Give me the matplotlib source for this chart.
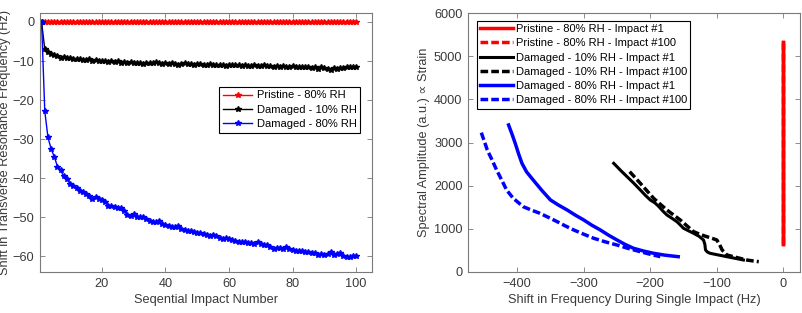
import matplotlib
matplotlib.use("Agg")
import matplotlib.pyplot as plt
import numpy as np

plt.rcParams['font.family'] = ['Liberation Sans', 'DejaVu Sans']

# ---------------- Left panel data ----------------
impact = list(range(1, 101))
pristine_80 = [0.0] * 100
damaged_10 = [0, -7.0, -7.8, -8.3, -8.5, -8.6, -9.3, -9.0, -9.2, -9.3,
              -9.5, -9.4, -9.6, -9.7, -9.8, -9.6, -9.9, -9.8, -10.0, -9.9,
              -10.1, -10.2, -10.0, -10.3, -10.1, -10.4, -10.2, -10.5, -10.3, -10.4,
              -10.6, -10.5, -10.7, -10.5, -10.6, -10.4, -10.2, -10.5, -10.7, -10.6,
              -10.8, -10.6, -10.7, -10.9, -10.8, -10.6, -10.8, -10.7, -10.9, -10.8,
              -10.7, -10.9, -11.0, -10.8, -10.9, -11.1, -10.9, -11.0, -11.2, -10.9,
              -11.0, -11.1, -11.0, -11.2, -11.1, -11.3, -11.2, -11.0, -11.2, -11.3,
              -11.1, -11.3, -11.2, -11.4, -11.3, -11.4, -11.2, -11.4, -11.5, -11.3,
              -11.5, -11.6, -11.4, -11.6, -11.5, -11.7, -11.5, -12.0, -11.6, -11.8,
              -12.1, -12.2, -11.9, -12.0, -11.7, -11.8, -11.5, -11.6, -11.4, -11.5]
damaged_80 = [0, -22.8, -29.5, -32.5, -34.5, -37.0, -38.0, -39.5, -40.3, -41.5,
              -42.0, -42.5, -43.2, -43.5, -44.0, -44.5, -45.3, -44.8, -45.2, -45.5,
              -46.0, -47.0, -47.2, -47.3, -47.5, -47.6, -48.3, -49.3, -49.6, -49.2,
              -49.8, -49.9, -50.0, -50.5, -51.0, -51.2, -51.3, -51.0, -51.6, -52.0,
              -52.3, -52.6, -52.4, -52.1, -53.0, -53.3, -53.5, -53.4, -53.7, -53.9,
              -54.0, -54.3, -54.5, -54.9, -54.6, -54.7, -55.2, -55.5, -55.4, -55.5,
              -55.8, -56.0, -56.3, -56.4, -56.2, -56.5, -56.6, -56.8, -56.2, -56.9,
              -57.1, -57.2, -57.6, -58.2, -57.8, -57.9, -58.0, -57.7, -58.2, -58.4,
              -58.6, -58.5, -58.7, -58.9, -58.8, -59.1, -59.2, -59.6, -59.5, -59.7,
              -59.4, -59.0, -59.6, -59.5, -59.1, -59.9, -60.2, -60.1, -60.0, -59.8]

# ---------------- Right panel data ----------------
pr1_shift = [0, 0]
pr1_amp = [650, 5320]
pr100_shift = [0, 0]
pr100_amp = [650, 5300]
d10_1_shift = [-255, -245, -235, -225, -215, -207, -200, -193, -187, -181, -175, -167, -160,
               -155, -150, -142, -135, -127, -120, -118, -117, -114, -110, -98, -85, -72, -60]
d10_1_amp = [2518, 2360, 2209, 2060, 1900, 1770, 1668, 1600, 1513, 1410, 1320, 1240, 1166,
             1090, 1012, 950, 897, 830, 741, 640, 510, 460, 433, 395, 355, 315, 278]
d10_100_shift = [-231, -223, -215, -205, -195, -185, -175, -165, -155, -145, -135, -125,
                 -115, -107, -100, -96, -92, -88, -85, -70, -55, -45, -37]
d10_100_amp = [2324, 2190, 2055, 1880, 1707, 1570, 1437, 1320, 1205, 1070, 935, 870,
               818, 780, 741, 640, 510, 450, 394, 335, 278, 255, 239]
d80_1_shift = [-413, -408, -403, -398, -393, -386, -376, -363, -350, -338, -325, -313, -300,
               -288, -275, -263, -250, -238, -225, -210, -195, -178, -158]
d80_1_amp = [3406, 3200, 2980, 2740, 2520, 2320, 2131, 1890, 1668, 1550, 1437, 1320, 1205,
             1085, 973, 855, 741, 640, 548, 485, 433, 390, 355]
d80_100_shift = [-454, -450, -445, -438, -431, -423, -416, -406, -391, -378, -366, -353, -340,
                 -328, -315, -300, -285, -268, -250, -233, -215, -200, -185]
d80_100_amp = [3228, 3050, 2827, 2600, 2363, 2120, 1900, 1707, 1513, 1430, 1360, 1265, 1166,
               1070, 973, 875, 781, 700, 625, 545, 471, 410, 355]

text_col = '#3a3a3a'
spine_col = '#7a7a7a'
fs = 9.2
lfs = 8.0

fig = plt.figure(figsize=(8.03, 3.13), dpi=100)
ax1 = fig.add_axes([40/803, 41/313, 332/803, 259/313])
ax2 = fig.add_axes([468/803, 41/313, 332/803, 259/313])

# Left panel
ax1.plot(impact, pristine_80, color='red', marker='*', ms=4.2, lw=1, label='Pristine - 80% RH')
ax1.plot(impact, damaged_10, color='black', marker='*', ms=4.2, lw=1, label='Damaged - 10% RH')
ax1.plot(impact, damaged_80, color='blue', marker='*', ms=4.2, lw=1, label='Damaged - 80% RH')
ax1.set_xlim(0.5, 105)
ax1.set_ylim(-64, 2.3)
ax1.set_xticks([20, 40, 60, 80, 100])
ax1.set_yticks([0, -10, -20, -30, -40, -50, -60])
ax1.set_xlabel('Seqential Impact Number', fontsize=fs, color=text_col, labelpad=3)
ax1.set_ylabel('Shift in Transverse Resonance Frequency (Hz)', fontsize=fs, color=text_col, labelpad=1)
leg1 = ax1.legend(loc='upper left', bbox_to_anchor=(0.54, 0.716), fontsize=lfs, frameon=True,
                  fancybox=False, edgecolor='black', framealpha=1, borderpad=0.35,
                  labelspacing=0.38, handlelength=2.6, handletextpad=0.4, borderaxespad=0)
leg1.get_frame().set_linewidth(0.8)

# Right panel
ax2.plot(pr1_shift, pr1_amp, color='red', lw=2.5, ls='-', label='Pristine - 80% RH - Impact #1')
ax2.plot(pr100_shift, pr100_amp, color='red', lw=2.5, ls=(0, (2.2, 0.9)), label='Pristine - 80% RH - Impact #100')
ax2.plot(d10_1_shift, d10_1_amp, color='black', lw=2.2, ls='-', label='Damaged - 10% RH - Impact #1')
ax2.plot(d10_100_shift, d10_100_amp, color='black', lw=2.5, ls=(0, (2.2, 0.9)), label='Damaged - 10% RH - Impact #100')
ax2.plot(d80_1_shift, d80_1_amp, color='blue', lw=2.5, ls='-', label='Damaged - 80% RH - Impact #1')
ax2.plot(d80_100_shift, d80_100_amp, color='blue', lw=2.5, ls=(0, (2.2, 0.9)), label='Damaged - 80% RH - Impact #100')
# redraw pristine #1 on top
ax2.plot(pr1_shift, pr1_amp, color='red', lw=2.5, ls='-')
ax2.set_xlim(-474, 25)
ax2.set_ylim(0, 6000)
ax2.set_xticks([-400, -300, -200, -100, 0])
ax2.set_yticks([0, 1000, 2000, 3000, 4000, 5000, 6000])
ax2.set_xlabel('Shift in Frequency During Single Impact (Hz)', fontsize=fs, color=text_col, labelpad=3)
ax2.set_ylabel('Spectral Amplitude (a.u.) \u221d Strain', fontsize=fs, color=text_col, labelpad=3)
leg2 = ax2.legend(loc='upper left', bbox_to_anchor=(0.026, 0.97), fontsize=lfs, frameon=True,
                  fancybox=False, edgecolor='black', framealpha=1, borderpad=0.3,
                  labelspacing=0.38, handlelength=3.0, handletextpad=0.2, borderaxespad=0)
leg2.get_frame().set_linewidth(0.8)

for ax in (ax1, ax2):
    for s in ax.spines.values():
        s.set_color(spine_col)
        s.set_linewidth(0.8)
    ax.tick_params(direction='in', top=True, right=True, length=3.5, width=0.6,
                   colors=spine_col, labelcolor=text_col, labelsize=fs, pad=4)

fig.savefig('out.png', dpi=100)
